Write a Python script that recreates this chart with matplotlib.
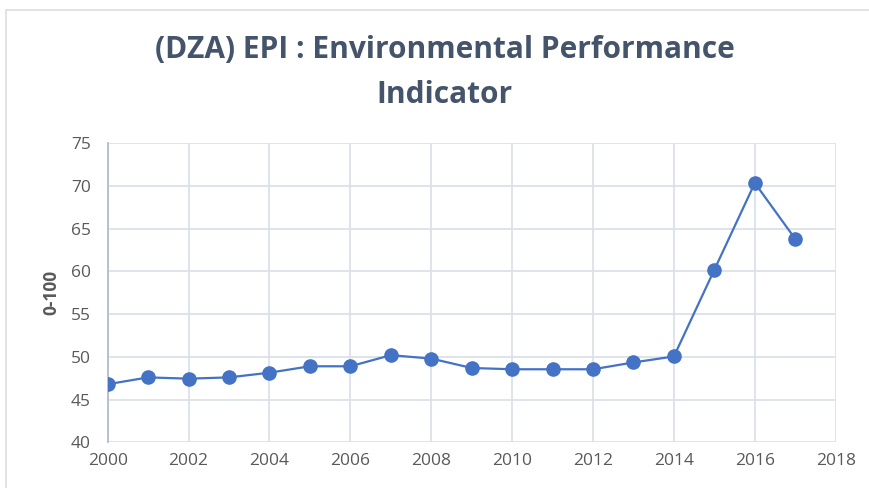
import matplotlib
matplotlib.use('Agg')
from matplotlib import pyplot as plt
from matplotlib.patches import Rectangle

years = [2000, 2001, 2002, 2003, 2004, 2005, 2006, 2007, 2008,
         2009, 2010, 2011, 2012, 2013, 2014, 2015, 2016, 2017]
epi = [46.8, 47.6, 47.45, 47.6, 48.15, 48.9, 48.9, 50.2, 49.8,
       48.7, 48.55, 48.55, 48.55, 49.35, 50.05, 60.2, 70.35, 63.8]

x_ticks = list(range(2000, 2019, 2))
y_ticks = list(range(40, 76, 5))

title = '(DZA) EPI : Environmental Performance\nIndicator'
y_label = '0-100'

line_color = '#4472C4'
grid_color = '#DCE0E8'
text_color = '#595959'
title_color = '#44546A'


def main():
    plt.rcParams['font.family'] = ['Open Sans', 'DejaVu Sans']

    fig = plt.figure(figsize=(8.69, 4.88), dpi=100)
    ax = fig.add_axes([0.1239, 0.0936, 0.8378, 0.6128])

    # chart frame (extends past the right and bottom of the image)
    fig.patches.append(Rectangle((6 / 869, -0.1), 1.2, 1.1 - 10 / 488,
                                 transform=fig.transFigure, fill=False,
                                 edgecolor='#DADDE2', linewidth=1.2))

    ax.plot(years, epi, color=line_color, linewidth=1.6,
            marker='o', markersize=9.5, zorder=3)

    ax.set_xlim(2000, 2018)
    ax.set_ylim(40, 75)
    ax.set_xticks(x_ticks)
    ax.set_yticks(y_ticks)
    ax.grid(True, color=grid_color, linewidth=1.3)
    ax.set_axisbelow(True)

    for side in ['top', 'right', 'bottom']:
        ax.spines[side].set_visible(False)
    ax.spines['left'].set_color('#B4BCC8')
    ax.spines['left'].set_linewidth(1.3)

    ax.tick_params(axis='both', length=0, labelsize=12.5, labelcolor=text_color)
    ax.tick_params(axis='x', pad=8)
    ax.tick_params(axis='y', pad=12)

    ax.set_ylabel(y_label, fontsize=12.5, fontweight='bold', color=text_color, labelpad=8)

    fig.text(0.512, 0.851, title, ha='center', va='center', fontsize=21.5,
             fontweight='bold', color=title_color, linespacing=1.65)

    fig.savefig('out.png', dpi=100)


if __name__ == "__main__":
    main()
